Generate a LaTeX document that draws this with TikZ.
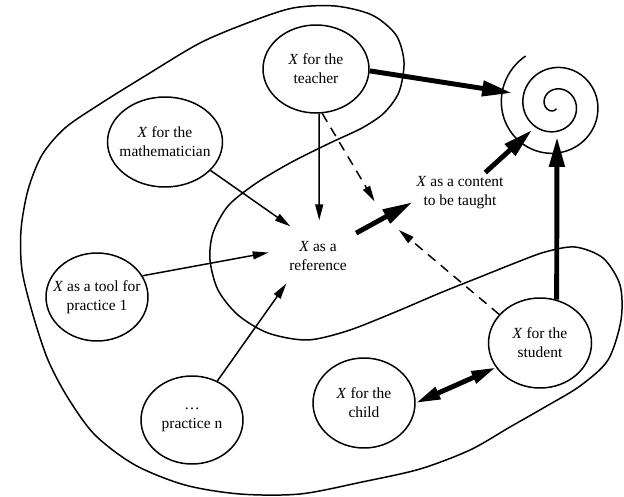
\documentclass[tikz,border=0pt]{standalone}
\usepackage{fontspec}
\setmainfont{Liberation Serif}
\usetikzlibrary{shapes.geometric,arrows.meta}

\begin{document}
\begin{tikzpicture}[x=0.02cm,y=-0.02cm,line width=0.85pt,font=\fontsize{8.8}{10.8}\selectfont]
		\tikzset{bubble/.style = {ellipse, draw, inner xsep=-0.3cm, inner ysep=0pt, align=center, minimum width=2.04cm, minimum height=1.76cm}}
		\tikzset{txt/.style = {align=center, inner sep=2pt}}
		\tikzset{link/.style = {-{Triangle[length=9pt,width=4.5pt]}}}
		\tikzset{flow/.style = {line width=2.8pt, -{Triangle[length=17pt,width=8.5pt]}}}
		\tikzset{hint/.style = {dash pattern=on 5.5pt off 4pt, shorten >=0.38cm, -{Triangle[length=9pt,width=4.5pt]}}}
		\useasboundingbox (0,0) rectangle (624,496);
		
		% outer boundary
		\draw plot[smooth cycle] coordinates {(293,8) (335,6) (372,15) (396,35) (404,62) (399,92) (384,113) (362,128) (330,143) (290,163) (255,184) (228,206) (213,233) (210,260) (218,290) (238,315) (268,333) (307,340) (347,331) (393,313) (440,293) (480,277) (515,263) (545,252) (575,247) (603,258) (620,285) (621,320) (608,360) (580,386) (545,407) (510,427) (470,450) (420,469) (362,482) (300,494) (240,494) (185,485) (135,465) (95,435) (68,398) (48,360) (33,315) (22,270) (21,230) (28,190) (42,155) (65,128) (100,104) (145,76) (200,43) (250,22)};
		
		% spiral
		\draw plot[domain=-650:239, samples=200, smooth, variable=\t] ({555+(2+(\t+680)*0.06)*cos(\t)}, {105+(2+(\t+680)*0.06)*sin(\t)});
		\coordinate (sp-t) at (512,93);
		\coordinate (sp-c) at (532,130);
		\coordinate (sp-s) at (557,137);
		
		% nodes
		\node[bubble, minimum width=2.12cm] (teacher) at (316,69) {\textit{X} for the\\teacher};
		\node[bubble, minimum width=2.3cm, minimum height=1.8cm] (math) at (165,142) {\textit{X} for the\\mathematician};
		\node[bubble] (tool) at (97,297) {\textit{X} as a tool for\\practice 1};
		\node[bubble] (pn) at (192,420) {\dots\\practice n};
		\node[bubble, minimum height=1.8cm] (child) at (364,403) {\textit{X} for the\\child};
		\node[bubble, minimum width=2.06cm, minimum height=1.8cm] (student) at (540,343) {\textit{X} for the\\student};
		\node[ellipse, align=center, minimum width=1.92cm, minimum height=1.4cm] (ref) at (318,256) {\textit{X} as a\\reference};
		\node[txt] (content) at (460,193) {\textit{X} as a content\\to be taught};
		
		% arrows into the reference
		\draw[link] (math.-32) -- (ref.133);
		\draw[link] (tool.25) -- (ref.176);
		\draw[link] (pn.57) -- (ref.221);
		\draw[link] (teacher.-86) -- (ref.88);
		
		% transposition
		\draw[flow] (ref.31) -- coordinate[midway] (trans) (content.191);
		\draw[hint] (teacher.-82) -- (trans);
		\draw[hint] (student.145) -- (trans);
		
		% arrows to the spiral
		\draw[flow] (teacher.-2) -- (sp-t);
		\draw[flow] (content.39) -- (sp-c);
		\draw[flow] (student.69) -- (sp-s);
		\draw[flow, {Triangle[length=14pt,width=7pt]}-{Triangle[length=14pt,width=7pt]}] (child.east) -- (student.209);
		\end{tikzpicture}
\end{document}
